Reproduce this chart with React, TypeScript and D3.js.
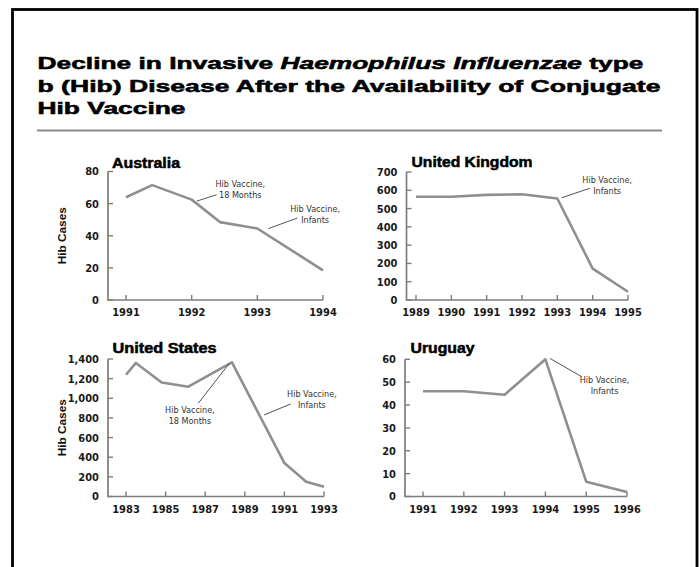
import React from "react";
import * as d3 from "d3";

// ---------- DATA ----------
const titleLines = [
  "Decline in Invasive ",
  "Haemophilus Influenzae",
  " type",
];
const titleLine2 = "b (Hib) Disease After the Availability of Conjugate";
const titleLine3 = "Hib Vaccine";

const ausYears = [1991, 1991.4, 1992, 1992.43, 1993, 1994];
const ausCases = [64, 71.5, 62.5, 48.5, 44.5, 18.5];
const ausXTicks = [1991, 1992, 1993, 1994];
const ausYTicks = [0, 20, 40, 60, 80];

const ukYears = [1989, 1990, 1991, 1992, 1993, 1994, 1995];
const ukCases = [565, 565, 575, 578, 555, 172, 45];
const ukXTicks = [1989, 1990, 1991, 1992, 1993, 1994, 1995];
const ukYTicks = [0, 100, 200, 300, 400, 500, 600, 700];

const usYears = [1983, 1983.5, 1984.8, 1986.15, 1988.35, 1991, 1992.1, 1993];
const usCases = [1240, 1360, 1160, 1118, 1365, 340, 150, 100];
const usXTicks = [1983, 1985, 1987, 1989, 1991, 1993];
const usYTicks = [0, 200, 400, 600, 800, 1000, 1200, 1400];

const uyYears = [1991, 1992, 1993, 1994, 1995, 1996];
const uyCases = [46, 46, 44.5, 60, 6.5, 2];
const uyXTicks = [1991, 1992, 1993, 1994, 1995, 1996];
const uyYTicks = [0, 10, 20, 30, 40, 50, 60];

const note18 = ["Hib Vaccine,", "18 Months"];
const noteInf = ["Hib Vaccine,", "Infants"];

// annotations in data space: leader from -> to, text at
const ausNotes = [
  { lines: note18, from: [1992.08, 61.6], to: [1992.38, 65.5], at: [1992.74, 70.1] },
  { lines: noteInf, from: [1993.17, 44.5], to: [1993.61, 51.0], at: [1993.88, 54.8] },
];
const ukNotes = [
  { lines: noteInf, from: [1993.12, 559], to: [1993.92, 611], at: [1994.41, 638] },
];
const usNotes = [
  { lines: note18, from: [1986.65, 949], to: [1988.22, 1356], at: [1986.23, 847] },
  { lines: noteInf, from: [1989.97, 830], to: [1991.32, 942], at: [1992.39, 1016] },
];
const uyNotes = [
  { lines: noteInf, from: [1994.11, 60.4], to: [1994.89, 52.4], at: [1995.45, 49.5] },
];

// ---------- LAYOUT ----------
const panels = [
  {
    name: "Australia", nameW: 68, years: ausYears, cases: ausCases, xTicks: ausXTicks, yTicks: ausYTicks,
    notes: ausNotes, xDomain: [1991, 1994], yDomain: [0, 80],
    xRange: [126, 323], yRange: [300, 171.5], axisX: 108, titleX: 112, titleY: 168, yLabel: true,
  },
  {
    name: "United Kingdom", nameW: 121, years: ukYears, cases: ukCases, xTicks: ukXTicks, yTicks: ukYTicks,
    notes: ukNotes, xDomain: [1989, 1995], yDomain: [0, 700],
    xRange: [416, 628], yRange: [300, 172], axisX: 406.5, titleX: 411.5, titleY: 167, yLabel: false,
  },
  {
    name: "United States", nameW: 104, years: usYears, cases: usCases, xTicks: usXTicks, yTicks: usYTicks,
    notes: usNotes, xDomain: [1983, 1993], yDomain: [0, 1400],
    xRange: [126, 324], yRange: [496.5, 359], axisX: 108, titleX: 112.5, titleY: 353, yLabel: true,
  },
  {
    name: "Uruguay", nameW: 64, years: uyYears, cases: uyCases, xTicks: uyXTicks, yTicks: uyYTicks,
    notes: uyNotes, xDomain: [1991, 1996], yDomain: [0, 60],
    xRange: [423, 627], yRange: [496.5, 359.3], axisX: 405, titleX: 410.5, titleY: 352.5, yLabel: false,
  },
];

const LINE = "#8f8f8f";
const AXIS = "#7d7d7d";
const TICKFONT = "'Liberation Sans Narrow', 'DejaVu Sans Condensed', 'Liberation Sans', sans-serif";
const HEAVY = "'Liberation Sans', Arial, sans-serif";
const fmt = d3.format(",");

function Panel({ p }: { p: any }) {
  const x = d3.scaleLinear().domain(p.xDomain).range(p.xRange);
  const y = d3.scaleLinear().domain(p.yDomain).range(p.yRange);
  const pts: [number, number][] = p.years.map((yr: number, i: number) => [yr, p.cases[i]]);
  const line = d3.line<[number, number]>().x((d) => x(d[0])).y((d) => y(d[1])).curve(d3.curveLinear);
  const y0 = y(0);
  const yTop = y(p.yDomain[1]);
  const xEnd = x(p.xDomain[1]);
  return (
    <g>
      <text x={p.titleX} y={p.titleY} fontFamily={HEAVY} fontWeight={900} fontSize={14}
        stroke="#000" strokeWidth={0.5} fill="#000" textLength={p.nameW} lengthAdjust="spacingAndGlyphs">
        {p.name}
      </text>
      {p.yLabel && (
        <text transform={`translate(65.5,${(y0 + yTop) / 2}) rotate(-90)`} textAnchor="middle"
          fontFamily={HEAVY} fontWeight={700} fontSize={10} fill="#111" textLength={57} lengthAdjust="spacingAndGlyphs">
          Hib Cases
        </text>
      )}
      {/* axes */}
      <path d={`M${p.axisX},${yTop}V${y0}H${xEnd}`} fill="none" stroke={AXIS} strokeWidth={1.7} />
      {p.yTicks.map((t: number) => (
        <g key={"y" + t}>
          <line x1={p.axisX} x2={p.axisX + 5} y1={y(t)} y2={y(t)} stroke={AXIS} strokeWidth={1.4} />
          <text x={p.axisX - 9} y={y(t)} dy="0.36em" textAnchor="end" fontFamily={TICKFONT}
            fontWeight={700} fontSize={11} fill="#1a1a1a">
            {fmt(t)}
          </text>
        </g>
      ))}
      {p.xTicks.map((t: number) => (
        <g key={"x" + t}>
          <line x1={x(t)} x2={x(t)} y1={y0} y2={y0 - 5} stroke={AXIS} strokeWidth={1.4} />
          <text x={x(t)} y={y0 + 16} textAnchor="middle" fontFamily={TICKFONT}
            fontWeight={700} fontSize={11} fill="#1a1a1a">
            {t}
          </text>
        </g>
      ))}
      {/* data */}
      <path d={line(pts) || ""} fill="none" stroke={LINE} strokeWidth={2.6} strokeLinejoin="round" />
      {/* annotations */}
      {p.notes.map((n: any, i: number) => (
        <g key={"n" + i}>
          <line x1={x(n.from[0])} y1={y(n.from[1])} x2={x(n.to[0])} y2={y(n.to[1])} stroke="#555" strokeWidth={1} />
          <text x={x(n.at[0])} y={y(n.at[1])} textAnchor="middle" fontFamily={TICKFONT} fontSize={9} fill="#333">
            {n.lines.map((l: string, j: number) => (
              <tspan key={j} x={x(n.at[0])} dy={j === 0 ? 0 : 11}>{l}</tspan>
            ))}
          </text>
        </g>
      ))}
    </g>
  );
}

export default function App() {
  return (
    <div style={{ position: "absolute", left: 0, top: 0 }}>
      <svg width={700} height={567} viewBox="0 0 700 567" style={{ display: "block", background: "#fff" }}>
        <rect x={0} y={0} width={700} height={567} fill="#fff" />
        <rect x={12.5} y={9.5} width={684.5} height={620} fill="none" stroke="#000" strokeWidth={2.8} />
        <g fontFamily={HEAVY} fontWeight={900} fontSize={17} fill="#000" stroke="#000" strokeWidth={0.55}>
          <text x={37.5} y={68.5} textLength={606} lengthAdjust="spacingAndGlyphs">
            {titleLines[0]}
            <tspan fontStyle="italic">{titleLines[1]}</tspan>
            {titleLines[2]}
          </text>
          <text x={37.5} y={91.5} textLength={623} lengthAdjust="spacingAndGlyphs">{titleLine2}</text>
          <text x={37.5} y={114} textLength={148} lengthAdjust="spacingAndGlyphs">{titleLine3}</text>
        </g>
        <line x1={37} x2={662} y1={130.5} y2={130.5} stroke="#8a8a8a" strokeWidth={2.2} />
        {panels.map((p) => (
          <Panel key={p.name} p={p} />
        ))}
      </svg>
    </div>
  );
}
